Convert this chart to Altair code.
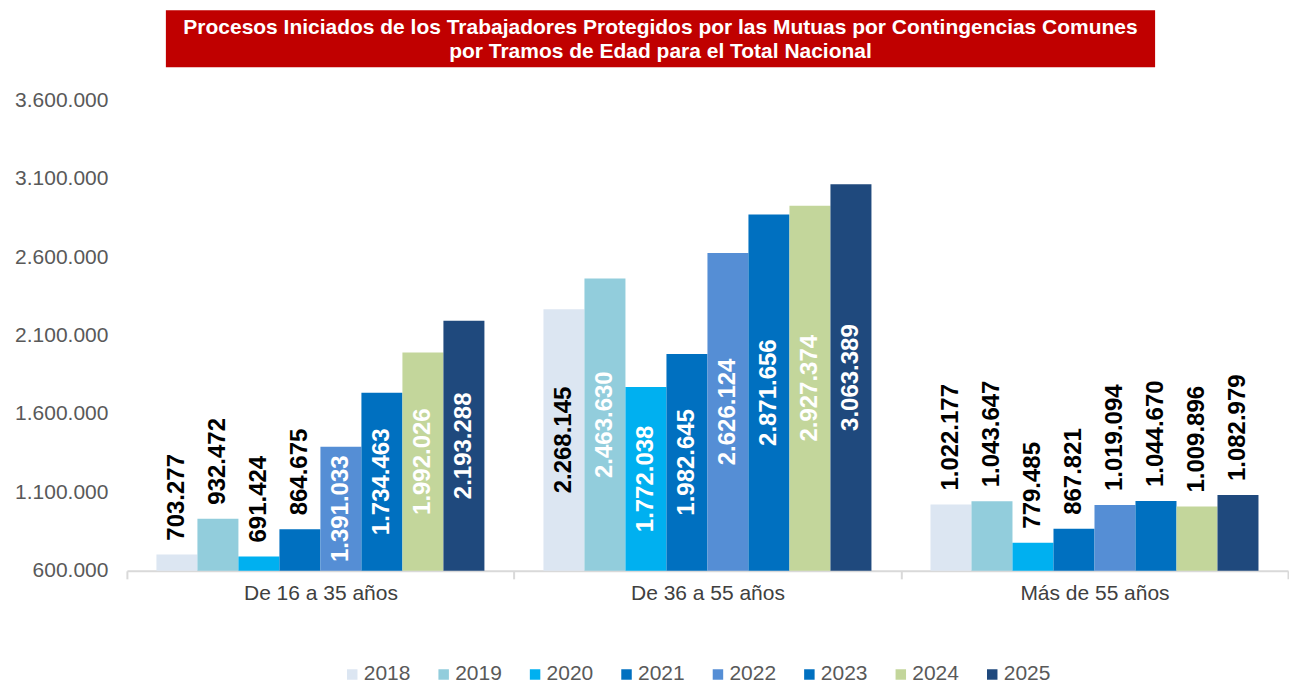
import altair as alt
import pandas as pd

FONT = "Liberation Sans"

groups = ["De 16 a 35 años", "De 36 a 55 años", "Más de 55 años"]
years = ["2018", "2019", "2020", "2021", "2022", "2023", "2024", "2025"]
v_16_35 = [703277, 932472, 691424, 864675, 1391033, 1734463, 1992026, 2193288]
v_36_55 = [2268145, 2463630, 1772038, 1982645, 2626124, 2871656, 2927374, 3063389]
v_55_plus = [1022177, 1043647, 779485, 867821, 1019094, 1044670, 1009896, 1082979]
year_colors = ["#DCE6F2", "#92CDDC", "#00B0F0", "#0070C0",
               "#558ED5", "#0070C0", "#C3D69B", "#1F497D"]
title_lines = [
    "Procesos Iniciados de los Trabajadores Protegidos por las Mutuas por Contingencias Comunes",
    "por Tramos de Edad para el Total Nacional",
]
y_min, y_max, y_step = 600000, 3600000, 500000
inside_threshold = 1200000

rows = []
for g, vals in zip(groups, [v_16_35, v_36_55, v_55_plus]):
    for yr, v in zip(years, vals):
        rows.append({"grupo": g, "anio": yr, "valor": v})
df = pd.DataFrame(rows)
title_df = pd.DataFrame({"t": ["\n".join(title_lines)]})

W, H = 1162, 471

x_enc = alt.X(
    "grupo:N", sort=groups, title=None,
    scale=alt.Scale(paddingInner=0, paddingOuter=0),
    axis=alt.Axis(labelAngle=0, labelFontSize=21, labelFont=FONT, labelColor="#404040",
                  domainColor="#D9D9D9", domainWidth=2, tickColor="#D9D9D9",
                  tickWidth=2, tickSize=8, tickBand="extent", labelPadding=4),
)
xoff_enc = alt.XOffset("anio:N", sort=years,
                       scale=alt.Scale(paddingOuter=0.72, paddingInner=0))
y_scale = alt.Scale(domain=[y_min, y_max], nice=False, zero=False)
y_enc = alt.Y(
    "valor:Q", title=None, scale=y_scale,
    axis=alt.Axis(values=list(range(y_min, y_max + 1, y_step)), format=",.0f",
                  grid=False, domain=False, ticks=False, labelFontSize=21,
                  labelFont=FONT, labelColor="#595959", labelPadding=19),
)

base = alt.Chart(df).encode(x=x_enc, xOffset=xoff_enc)

bars = base.mark_bar().encode(
    y=y_enc,
    y2=alt.datum(y_min),
    color=alt.Color(
        "anio:N", sort=years,
        scale=alt.Scale(domain=years, range=year_colors),
        legend=alt.Legend(title=None, orient="none", legendX=215, legendY=564,
                          direction="horizontal", columns=8, symbolType="square",
                          symbolSize=110, symbolStrokeWidth=0, labelFontSize=21,
                          labelFont=FONT, labelColor="#595959", columnPadding=22.5,
                          labelOffset=1, padding=0),
    ),
)

outside = base.transform_filter(
    alt.datum.valor < inside_threshold
).mark_text(angle=270, align="left", baseline="middle", dx=14, fontSize=24,
            fontWeight="bold", font=FONT, color="#000000").encode(
    y=alt.Y("valor:Q", scale=y_scale),
    text=alt.Text("valor:Q", format=",.0f"),
)

inside = base.transform_filter(
    alt.datum.valor >= inside_threshold
).transform_calculate(
    mid=f"(datum.valor + {y_min}) / 2"
).mark_text(angle=270, align="center", baseline="middle", fontSize=24,
            fontWeight="bold", font=FONT).encode(
    y=alt.Y("mid:Q", scale=y_scale),
    text=alt.Text("valor:Q", format=",.0f"),
    color=alt.condition("datum.anio == '2018'", alt.value("#000000"), alt.value("#FFFFFF")),
)

title_box = alt.Chart(title_df).mark_rect(color="#C00000").encode(
    x=alt.value(39), x2=alt.value(1029), y=alt.value(-90), y2=alt.value(-33)
)
title_text = alt.Chart(title_df).mark_text(
    lineBreak="\n", fontSize=21, fontWeight="bold", font=FONT, color="#FFFFFF",
    lineHeight=24, align="center", baseline="middle"
).encode(x=alt.value(534), y=alt.value(-72), text="t:N")

chart = alt.layer(title_box, title_text, bars, outside, inside).properties(
    width=W, height=H, padding={"left": 6, "top": 2, "right": 0, "bottom": 0}
).configure_view(stroke=None)

chart.save("out.html", embed_options={
    "renderer": "svg", "actions": False,
    "formatLocale": {"decimal": ",", "thousands": ".", "grouping": [3],
                     "currency": ["", "\u00a0€"]},
})
